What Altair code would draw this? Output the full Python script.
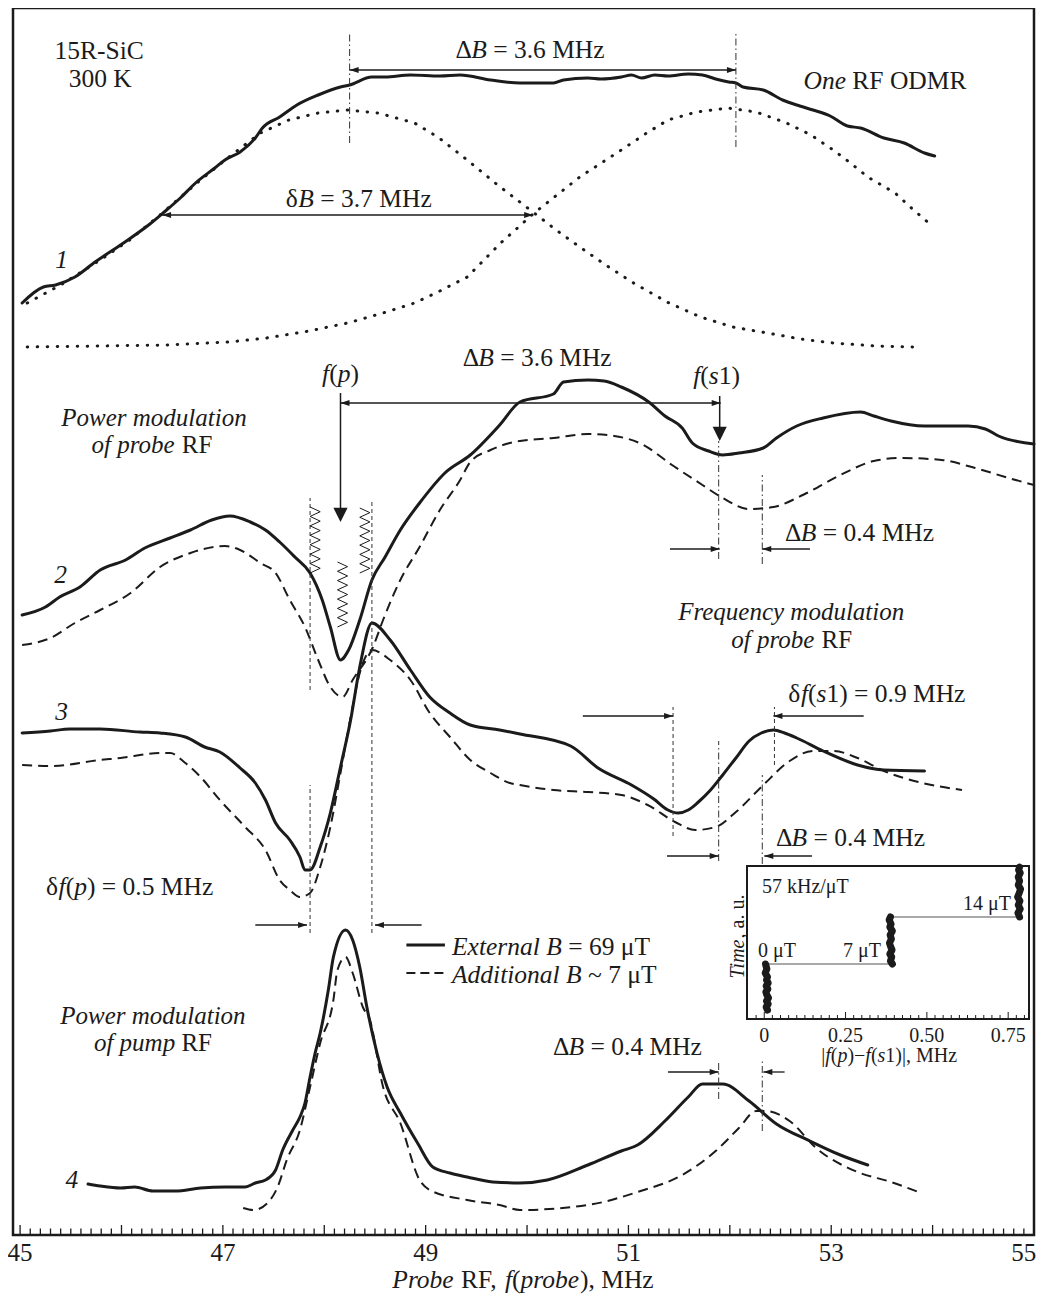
import altair as alt
import numpy as np
import pandas as pd

FONT = "Liberation Serif"
INK = "#1b1b1b"
FS = 25.5
FS_IN = 20

# ---------------- main plot geometry ----------------
X_MIN, X_MAX = 44.93, 55.0
Y_MIN, Y_MAX = 0.0, 1227.0
W, H = 1021, 1227
PXX = W / (X_MAX - X_MIN)

# ---------------- inset geometry ----------------
IX_MIN, IX_MAX = -0.053, 0.814
IT_MIN, IT_MAX = 0.0, 153.0
IR_X = [734, 1016]
IR_Y = [1011, 858]
IPXX = (IR_X[1] - IR_X[0]) / (IX_MAX - IX_MIN)
IPXY = (IR_Y[0] - IR_Y[1]) / (IT_MAX - IT_MIN)

# ---------------- curve data (probe RF in MHz, signal in a.u.) ----------------
c1_x = [45.02, 45.23, 45.35, 45.54, 45.74, 45.99, 46.28, 46.41, 46.58, 46.73,
        46.92, 47.02, 47.17, 47.32, 47.39, 47.56, 47.73, 47.94, 48.16, 48.25,
        48.47, 48.60, 48.85, 49.14, 49.34, 49.64,
        49.93, 50.26, 50.36, 50.60, 50.73, 50.93, 51.03, 51.13, 51.26, 51.39,
        51.59, 51.73, 51.86, 51.99, 52.06, 52.13, 52.33, 52.52, 52.69, 52.82,
        52.99, 53.16, 53.29, 53.52, 53.72, 53.92, 54.02]
c1_y = [932, 948, 950, 958, 973, 990, 1011, 1022, 1037, 1052,
        1067, 1075, 1083, 1097, 1107, 1118, 1130, 1140, 1148, 1150,
        1158, 1158, 1160, 1159, 1160, 1155,
        1152, 1152, 1155, 1157, 1156, 1158, 1160, 1157, 1160, 1159,
        1161, 1160, 1156, 1153, 1152, 1148, 1145, 1135, 1129, 1125,
        1119, 1109, 1107, 1097, 1092, 1082, 1079]

g1_x = [45.07, 45.40, 45.79, 46.08, 46.38, 46.78, 47.06, 47.37, 47.65, 47.94,
        48.23, 48.53, 48.89, 49.12, 49.41, 49.71, 50.07, 50.30, 50.52, 50.79,
        51.05, 51.38, 51.71, 52.03, 52.37, 52.70, 53.02, 53.44, 53.82]
g1_y = [932, 950, 975, 995, 1020, 1055, 1078, 1102, 1115, 1122,
        1125, 1122, 1112, 1098, 1075, 1050, 1022, 1004, 988, 969,
        952, 933, 918, 908, 902, 896, 892, 889, 888]

g2_x = [45.07, 45.78, 46.45, 47.06, 47.43, 47.85, 48.23, 48.58, 48.89, 49.12,
        49.41, 49.74, 50.07, 50.52, 50.93, 51.18, 51.39, 51.67, 51.98, 52.26,
        52.56, 52.80, 53.02, 53.19, 53.36, 53.63, 53.78, 53.95]
g2_y = [888, 889, 890, 893, 897, 904, 912, 922, 932, 943,
        958, 992, 1022, 1058, 1085, 1102, 1115, 1123, 1127, 1123,
        1112, 1100, 1085, 1072, 1058, 1042, 1028, 1013]

c2s_x = [45.02, 45.25, 45.39, 45.59, 45.79, 46.04, 46.23, 46.48, 46.68, 46.89,
         47.07, 47.27, 47.42, 47.56, 47.71, 47.86, 47.98, 48.06, 48.16, 48.24,
         48.35, 48.47, 48.60, 48.75, 48.94, 49.19, 49.44, 49.73,
         49.93, 50.26, 50.36, 50.60, 50.76, 50.93, 51.20, 51.36, 51.53, 51.63,
         51.79, 51.93, 52.09, 52.33, 52.46, 52.66, 52.92, 53.29, 53.42, 53.59,
         53.92, 54.35, 54.52, 54.65, 55.00]
c2s_y = [620, 628, 638, 648, 665, 675, 687, 697, 705, 715,
         719, 713, 705, 693, 678, 662, 635, 608, 575, 585,
         615, 655, 678, 705, 732, 762, 780, 810,
         833, 841, 853, 855, 854, 848, 833, 819, 807, 792,
         784, 780, 782, 787, 797, 809, 817, 823, 819, 814,
         809, 809, 806, 799, 791]

c2d_x = [45.02, 45.30, 45.54, 45.79, 46.09, 46.38, 46.68, 47.02, 47.17, 47.37,
         47.52, 47.66, 47.81, 47.94, 48.06, 48.18, 48.28, 48.48, 48.58, 48.75,
         48.94, 49.14, 49.34, 49.44, 49.64, 49.83,
         49.93, 50.26, 50.60, 50.86, 51.13, 51.43, 51.73, 51.93, 52.19, 52.43,
         52.72, 53.09, 53.42, 53.69, 54.09, 54.42, 54.75, 55.00]
c2d_y = [590, 597, 612, 625, 642, 668, 682, 689, 685, 672,
         662, 635, 608, 575, 548, 538, 555, 588, 615, 655,
         688, 725, 755, 773, 785, 792,
         794, 797, 801, 799, 791, 770, 750, 737, 726, 728,
         740, 760, 774, 777, 775, 767, 757, 750]

c3s_x = [45.02, 45.30, 45.49, 45.79, 46.18, 46.38, 46.63, 46.82, 46.97, 47.17,
         47.32, 47.42, 47.52, 47.66, 47.76, 47.81, 47.86, 47.96, 48.06, 48.16,
         48.26, 48.35, 48.47, 48.65, 48.85, 49.04, 49.24, 49.44, 49.73,
         49.93, 50.43, 50.70, 51.03, 51.25, 51.39, 51.49, 51.59, 51.69, 51.81,
         51.93, 52.06, 52.19, 52.31, 52.43, 52.54, 52.66, 52.92, 53.26, 53.52,
         53.92]
c3s_y = [502, 504, 506, 506, 503, 502, 498, 488, 483, 467,
         452, 435, 412, 395, 378, 365, 365, 388, 422, 468,
         515, 568, 612, 595, 565, 538, 522, 510, 505,
         501, 489, 467, 450, 436, 425, 422, 425, 433, 445,
         460, 477, 494, 502, 505, 502, 497, 484, 470, 465,
         464]

c3d_x = [45.02, 45.30, 45.79, 45.99, 46.38, 46.48, 46.63, 46.78, 46.97, 47.22,
         47.42, 47.56, 47.66, 47.76, 47.86, 47.96, 48.06, 48.16, 48.26, 48.35,
         48.47, 48.65, 48.85, 49.04, 49.24, 49.44, 49.64, 49.83,
         49.93, 50.26, 50.60, 50.93, 51.19, 51.46, 51.66, 51.86, 52.06, 52.33,
         52.59, 52.82, 53.02, 53.26, 53.52, 53.86, 54.29]
c3d_y = [470, 469, 475, 477, 482, 482, 472, 458, 435, 408,
         385, 355, 345, 338, 342, 368, 408, 462, 518, 562,
         585, 575, 555, 522, 498, 475, 462, 452,
         450, 445, 443, 440, 430, 413, 405, 408, 423, 450,
         474, 484, 484, 477, 464, 453, 445]

c4s_x = [45.67, 45.79, 45.99, 46.13, 46.31, 46.53, 46.78, 47.02, 47.22, 47.32,
         47.42, 47.52, 47.59, 47.69, 47.76, 47.81, 47.86, 47.91, 47.96, 48.04,
         48.09, 48.21, 48.28, 48.35, 48.42, 48.52, 48.62, 48.75, 48.92, 49.07,
         49.24, 49.41, 49.66,
         49.93, 50.20, 50.60, 50.93, 51.09, 51.36, 51.59, 51.73, 51.93, 52.19,
         52.46, 52.79, 53.09, 53.36]
c4s_y = [51, 49, 47, 48, 44, 44, 47, 48, 48, 52,
         55, 65, 85, 105, 118, 132, 158, 182, 202, 245,
         278, 305, 295, 268, 228, 182, 148, 122, 92, 68,
         62, 58, 53,
         52, 55, 70, 84, 90, 114, 138, 151, 151, 134,
         111, 94, 80, 70]

c4d_x = [47.20, 47.30, 47.44, 47.54, 47.63, 47.76, 47.86, 47.96, 48.09, 48.13,
         48.21, 48.28, 48.38, 48.45, 48.58, 48.75, 48.94, 49.04, 49.41, 49.73,
         49.93, 50.60, 51.09, 51.53, 51.86, 52.09, 52.26, 52.36, 52.59, 52.85,
         53.26, 53.59, 53.86]
c4d_y = [27, 25, 32, 48, 75, 105, 148, 192, 235, 265,
         278, 262, 228, 215, 148, 112, 55, 45, 35, 30,
         25, 30, 43, 60, 84, 107, 124, 124, 114, 87,
         63, 53, 43]

# ---------------- inset data ----------------
cl1_x = [0.010, 0.006, 0.012, 0.007, 0.013, 0.008, 0.005, 0.011, 0.006, 0.012, 0.007, 0.010, 0.003, 0.008, 0.004]
cl1_t = [9, 12, 15, 18, 21, 24, 27, 30, 33, 36, 39, 42, 46, 50, 55]
cl2_x = [0.394, 0.388, 0.392, 0.386, 0.393, 0.389, 0.385, 0.391, 0.387, 0.394, 0.386, 0.390, 0.384, 0.388]
cl2_t = [55, 58, 62, 65, 69, 72, 76, 80, 84, 88, 92, 95, 99, 102]
cl3_x = [0.785, 0.780, 0.787, 0.781, 0.786, 0.779, 0.784, 0.788, 0.781, 0.785, 0.781, 0.787, 0.782, 0.785]
cl3_t = [102, 106, 110, 114, 118, 122, 126, 130, 134, 138, 142, 146, 149, 152]
step_x = [0.012, 0.393]
step_x2 = [0.402, 0.780]
step_t = [55, 102]

main_tick_vals = [45, 47, 49, 51, 53, 55]
main_tick_labels = ["45", "47", "49", "51", "53", "55"]
main_label_pos = [45, 47, 49, 51, 53, 54.90]   # last label kept inside the page edge
in_tick_vals = [0, 0.25, 0.5, 0.75]
in_tick_labels = ["0", "0.25", "0.50", "0.75"]

# ---------------- text width tables (Times metrics) ----------------
REG = {' ': 250, '!': 333, '(': 333, ')': 333, ',': 250, '-': 333, '.': 250, '/': 278,
       '=': 564, '~': 541, '|': 200, '−': 564, 'Δ': 612, 'δ': 494, 'μ': 500,
       'A': 722, 'B': 667, 'C': 667, 'D': 722, 'E': 611, 'F': 556, 'G': 722, 'H': 722,
       'I': 333, 'J': 389, 'K': 722, 'L': 611, 'M': 889, 'N': 722, 'O': 722, 'P': 556,
       'Q': 722, 'R': 667, 'S': 556, 'T': 611, 'U': 722, 'V': 722, 'W': 944, 'X': 722,
       'Y': 722, 'Z': 611,
       'a': 444, 'b': 500, 'c': 444, 'd': 500, 'e': 444, 'f': 333, 'g': 500, 'h': 500,
       'i': 278, 'j': 278, 'k': 500, 'l': 278, 'm': 778, 'n': 500, 'o': 500, 'p': 500,
       'q': 500, 'r': 333, 's': 389, 't': 278, 'u': 500, 'v': 500, 'w': 722, 'x': 500,
       'y': 500, 'z': 444}
ITA = {' ': 250, '(': 333, ')': 333, ',': 250, '.': 250,
       'A': 611, 'B': 611, 'C': 667, 'D': 722, 'E': 611, 'F': 611, 'G': 722, 'H': 722,
       'I': 333, 'M': 833, 'N': 667, 'O': 722, 'P': 611, 'R': 611, 'S': 500, 'T': 556,
       'a': 500, 'b': 500, 'c': 444, 'd': 500, 'e': 444, 'f': 278, 'g': 500, 'h': 500,
       'i': 278, 'j': 278, 'k': 444, 'l': 278, 'm': 722, 'n': 500, 'o': 500, 'p': 500,
       'q': 500, 'r': 389, 's': 389, 't': 278, 'u': 500, 'v': 444, 'w': 667, 'x': 444,
       'y': 444, 'z': 389}


def tw(s, italic, size):
    tbl = ITA if italic else REG
    return sum(tbl.get(ch, 500) for ch in s) / 1000.0 * size


rows = []


def put(runs, x, y, size=FS, align="center", layer="main", angle=0):
    if layer == "main":
        ppu = PXX
    else:
        ppu = IPXY if angle else IPXX
    widths = [tw(t, it, size) for t, it in runs]
    total = sum(widths)
    off = {"center": -total / 2, "left": 0.0, "right": -total}[align]
    for (t, it), w in zip(runs, widths):
        lead = t[: len(t) - len(t.lstrip())]
        pos = (off + tw(lead, it, size)) / ppu
        if angle:
            rows.append(dict(x=x, y=y + pos, text=t.strip(), size=size, italic=it, layer=layer, angle=angle))
        else:
            rows.append(dict(x=x + pos, y=y, text=t.strip(), size=size, italic=it, layer=layer, angle=angle))
        off += w


R, I = False, True
put([("15R-SiC", R)], 45.78, 1176)
put([("300 K", R)], 45.79, 1148)
put([("Δ", R), ("B", I), (" = 3.6 MHz", R)], 50.03, 1177)
put([("One", I), (" RF ODMR", R)], 53.53, 1146)
put([("δ", R), ("B", I), (" = 3.7 MHz", R)], 48.34, 1028)
put([("1", I)], 45.41, 967)
put([("Δ", R), ("B", I), (" = 3.6 MHz", R)], 50.10, 869)
put([("f", I), ("(", R), ("p", I), (")", R)], 48.16, 853)
put([("f", I), ("(", R), ("s", I), ("1)", R)], 51.87, 851)
put([("Power modulation", I)], 46.32, 809, size=25)
put([("of probe", I), (" RF", R)], 46.30, 782, size=25)
put([("2", I)], 45.40, 652)
put([("Δ", R), ("B", I), (" = 0.4 MHz", R)], 53.28, 694)
put([("Frequency modulation", I)], 52.61, 615, size=25)
put([("of probe", I), (" RF", R)], 52.61, 587, size=25)
put([("3", I)], 45.41, 515)
put([("δ", R), ("f", I), ("(", R), ("s", I), ("1) = 0.9 MHz", R)], 53.45, 533)
put([("Δ", R), ("B", I), (" = 0.4 MHz", R)], 53.19, 389)
put([("δ", R), ("f", I), ("(", R), ("p", I), (") = 0.5 MHz", R)], 46.08, 340)
put([("External B", I), (" = 69 μT", R)], 49.26, 280, align="left")
put([("Additional B", I), (" ~ 7 μT", R)], 49.26, 252, align="left")
put([("Power modulation", I)], 46.31, 211, size=25)
put([("of pump", I), (" RF", R)], 46.31, 184, size=25)
put([("4", I)], 45.51, 47)
put([("Δ", R), ("B", I), (" = 0.4 MHz", R)], 50.99, 180)
for v, lab in zip(main_label_pos, main_tick_labels):
    put([(lab, R)], v, -26, size=25)
put([("Probe", I), (" RF, ", R), ("f", I), ("(", R), ("probe", I), ("), MHz", R)], 49.96, -53)

# inset texts
put([("57 kHz/μT", R)], -0.007, 126, size=FS_IN, align="left", layer="inset")
put([("0 μT", R)], -0.019, 62, size=FS_IN, align="left", layer="inset")
put([("7 μT", R)], 0.242, 62, size=FS_IN, align="left", layer="inset")
put([("14 μT", R)], 0.611, 109, size=FS_IN, align="left", layer="inset")
for v, lab in zip(in_tick_vals, in_tick_labels):
    put([(lab, R)], v, -22.7, size=FS_IN, layer="inset")
put([("|", R), ("f", I), ("(", R), ("p", I), (")−", R), ("f", I), ("(", R), ("s", I), ("1)|, MHz", R)],
    0.384, -43, size=FS_IN, layer="inset")
put([("Time", I), (", a. u.", R)], -0.062, 82.5, size=FS_IN, layer="inset", angle=270)

text_df = pd.DataFrame(rows)

# ---------------- data frames ----------------
def cdf(name, xs, ys):
    assert len(xs) == len(ys), name
    return pd.DataFrame({"x": xs, "y": ys, "curve": name, "i": np.arange(len(xs))})


solid_df = pd.concat([cdf("1", c1_x, c1_y), cdf("2s", c2s_x, c2s_y),
                      cdf("3s", c3s_x, c3s_y), cdf("4s", c4s_x, c4s_y)])
dashed_df = pd.concat([cdf("2d", c2d_x, c2d_y), cdf("3d", c3d_x, c3d_y), cdf("4d", c4d_x, c4d_y)])
dotted_df = pd.concat([cdf("g1", g1_x, g1_y), cdf("g2", g2_x, g2_y)])

# dash-dot guide lines (x, y from, y to)
dd_df = pd.DataFrame([
    dict(x=48.25, y=1092, y2=1203), dict(x=52.06, y=1088, y2=1201),
    dict(x=51.89, y=676, y2=794), dict(x=52.32, y=671, y2=760),
    dict(x=51.89, y=374, y2=494), dict(x=52.32, y=371, y2=460),
    dict(x=51.89, y=136, y2=173), dict(x=52.32, y=104, y2=175),
])
dash_df = pd.DataFrame([
    dict(x=47.86, y=545, y2=737), dict(x=47.86, y=302, y2=450), dict(x=48.47, y=302, y2=733),
    dict(x=51.44, y=399, y2=528), dict(x=52.44, y=470, y2=528),
])

RIGHT = "M0,0L-2,-0.67L-2,0.67Z"
LEFT = "M0,0L2,-0.67L2,0.67Z"
DOWN = "M0,0L-1,-2L1,-2Z"

double_arrows = [(48.25, 52.06, 1165), (46.40, 50.06, 1020), (48.16, 51.91, 832)]
single_arrows = [(51.41, 51.90, 686), (52.79, 52.32, 686), (50.55, 51.44, 519), (53.32, 52.43, 519),
                 (51.38, 51.89, 379), (52.81, 52.34, 379), (47.32, 47.83, 310), (48.96, 48.50, 310),
                 (51.39, 51.89, 163), (52.54, 52.33, 163)]
down_arrows = [(48.16, 842, 713), (51.90, 839, 794)]

shaft_rows, head_rows, vshaft_rows = [], [], []
for a, b, y in double_arrows:
    shaft_rows.append(dict(x=a, x2=b, y=y))
    head_rows.append(dict(x=a, y=y, shape=LEFT, size=81))
    head_rows.append(dict(x=b, y=y, shape=RIGHT, size=81))
for a, b, y in single_arrows:
    shaft_rows.append(dict(x=a, x2=b, y=y))
    head_rows.append(dict(x=b, y=y, shape=RIGHT if b > a else LEFT, size=81))
for x, y0, y1 in down_arrows:
    vshaft_rows.append(dict(x=x, y=y1 + 5, y2=y0))
    head_rows.append(dict(x=x, y=y1, shape=DOWN, size=200))
shaft_df = pd.DataFrame(shaft_rows)
vshaft_df = pd.DataFrame(vshaft_rows)
head_df = pd.DataFrame(head_rows)

# springs (zigzags) on curve 2
spring_rows = []
for k, (xc, y0, y1) in enumerate([(47.91, 662, 728), (48.18, 608, 673), (48.40, 662, 727)]):
    n = 14
    for j in range(n + 1):
        spring_rows.append(dict(x=xc + (0.05 if j % 2 else -0.05), y=y1 - (y1 - y0) * j / n, s=k, i=j))
spring_df = pd.DataFrame(spring_rows)

legend_df = pd.DataFrame([dict(x=48.81, x2=49.19, y=290, kind="solid"),
                          dict(x=48.81, x2=49.19, y=262, kind="dashed")])

minor = [round(v, 1) for v in np.arange(45, 55.001, 0.1)]
tick_df = pd.DataFrame({"x": minor, "y": 0.0,
                        "y2": [10.0 if abs(v - round(v)) < 1e-6 else 6.5 for v in minor]})

# ---------------- main layers ----------------
XS = alt.Scale(domain=[X_MIN, X_MAX], nice=False, zero=False)
YS = alt.Scale(domain=[Y_MIN, Y_MAX], nice=False, zero=False)
MX = alt.X("x:Q", scale=XS, axis=None)
MY = alt.Y("y:Q", scale=YS, axis=None)

layers = []
layers.append(alt.Chart(dotted_df).mark_line(color=INK, strokeWidth=3, strokeDash=[0.5, 9.5],
                                             strokeCap="round").encode(x=MX, y=MY, detail="curve:N", order="i:Q"))
layers.append(alt.Chart(dashed_df).mark_line(color=INK, strokeWidth=2, strokeDash=[10, 6],
                                             interpolate="monotone").encode(
    x=MX, y=MY, detail="curve:N", order="i:Q"))
layers.append(alt.Chart(solid_df).mark_line(color=INK, strokeWidth=3, strokeJoin="round", strokeCap="round",
                                            interpolate="monotone").encode(
    x=MX, y=MY, detail="curve:N", order="i:Q"))
layers.append(alt.Chart(dd_df).mark_rule(color="#333", strokeWidth=1, strokeDash=[7, 3, 1.5, 3]).encode(
    x=MX, y=MY, y2="y2:Q"))
layers.append(alt.Chart(dash_df).mark_rule(color="#333", strokeWidth=1, strokeDash=[4, 3]).encode(
    x=MX, y=MY, y2="y2:Q"))
layers.append(alt.Chart(shaft_df).mark_rule(color=INK, strokeWidth=1.3).encode(x=MX, x2="x2:Q", y=MY))
layers.append(alt.Chart(vshaft_df).mark_rule(color=INK, strokeWidth=1.5).encode(x=MX, y=MY, y2="y2:Q"))
layers.append(alt.Chart(head_df).mark_point(filled=True, color=INK, opacity=1, strokeWidth=0).encode(
    x=MX, y=MY, shape=alt.Shape("shape:N", scale=None), size=alt.Size("size:Q", scale=None)))
layers.append(alt.Chart(spring_df).mark_line(color=INK, strokeWidth=1).encode(
    x=MX, y=MY, detail="s:N", order="i:Q"))
layers.append(alt.Chart(legend_df[legend_df.kind == "solid"]).mark_rule(color=INK, strokeWidth=3).encode(
    x=MX, x2="x2:Q", y=MY))
layers.append(alt.Chart(legend_df[legend_df.kind == "dashed"]).mark_rule(color=INK, strokeWidth=2,
                                                                          strokeDash=[9, 5]).encode(
    x=MX, x2="x2:Q", y=MY))
layers.append(alt.Chart(tick_df).mark_rule(color=INK, strokeWidth=1.3).encode(x=MX, y=MY, y2="y2:Q"))

main_txt = text_df[text_df.layer == "main"]
for ital in (False, True):
    d = main_txt[main_txt.italic == ital]
    if len(d):
        layers.append(alt.Chart(d).mark_text(font=FONT, fontStyle="italic" if ital else "normal",
                                             align="left", baseline="alphabetic", color=INK).encode(
            x=MX, y=MY, text="text:N", size=alt.Size("size:Q", scale=None)))
main = alt.layer(*layers)

# ---------------- inset layers ----------------
IXS = alt.Scale(domain=[IX_MIN, IX_MAX], range=IR_X, nice=False, zero=False)
ITS = alt.Scale(domain=[IT_MIN, IT_MAX], range=IR_Y, nice=False, zero=False)
IX = alt.X("ix:Q", scale=IXS, axis=None)
IT = alt.Y("it:Q", scale=ITS, axis=None)

ilayers = []
frame_df = pd.DataFrame([dict(ix=IX_MIN, ix2=IX_MAX, it=IT_MIN, it2=IT_MAX)])
ilayers.append(alt.Chart(frame_df).mark_rect(filled=False, stroke=INK, strokeWidth=2).encode(
    x=IX, x2="ix2:Q", y=IT, y2="it2:Q"))
iminor = [round(v, 3) for v in np.arange(-0.025, 0.8001, 0.025)]
itick_df = pd.DataFrame({"ix": iminor, "it": 0.0,
                         "it2": [7.0 if abs(v / 0.25 - round(v / 0.25)) < 1e-6 else 4.0 for v in iminor]})
ilayers.append(alt.Chart(itick_df).mark_rule(color=INK, strokeWidth=1).encode(x=IX, y=IT, y2="it2:Q"))
istep_df = pd.DataFrame({"ix": step_x, "ix2": step_x2, "it": step_t})
ilayers.append(alt.Chart(istep_df).mark_rule(color="#555", strokeWidth=1.2).encode(x=IX, x2="ix2:Q", y=IT))
cl_df = pd.concat([
    pd.DataFrame({"ix": cl1_x, "it": cl1_t, "c": "a", "i": np.arange(len(cl1_x))}),
    pd.DataFrame({"ix": cl2_x, "it": cl2_t, "c": "b", "i": np.arange(len(cl2_x))}),
    pd.DataFrame({"ix": cl3_x, "it": cl3_t, "c": "c", "i": np.arange(len(cl3_x))}),
])
ilayers.append(alt.Chart(cl_df).mark_line(color=INK, strokeWidth=7, strokeCap="round", strokeJoin="round").encode(
    x=IX, y=IT, detail="c:N", order="i:Q"))

in_txt = text_df[text_df.layer == "inset"].rename(columns={"x": "ix", "y": "it"})
for ital in (False, True):
    for ang in (0, 270):
        d = in_txt[(in_txt.italic == ital) & (in_txt.angle == ang)]
        if len(d):
            ilayers.append(alt.Chart(d).mark_text(font=FONT, fontStyle="italic" if ital else "normal",
                                                  align="left", baseline="alphabetic", color=INK,
                                                  angle=ang).encode(
                x=IX, y=IT, text="text:N", size=alt.Size("size:Q", scale=None)))
inset = alt.layer(*ilayers)

chart = alt.layer(main, inset).resolve_scale(x="independent", y="independent").properties(
    width=W, height=H,
    autosize=alt.AutoSizeParams(type="none"),
    padding={"left": 5, "top": 0, "right": 4, "bottom": 59},
).configure_view(stroke=INK, strokeWidth=2.5)

chart.save("out.html", embed_options={"renderer": "svg", "actions": False})
